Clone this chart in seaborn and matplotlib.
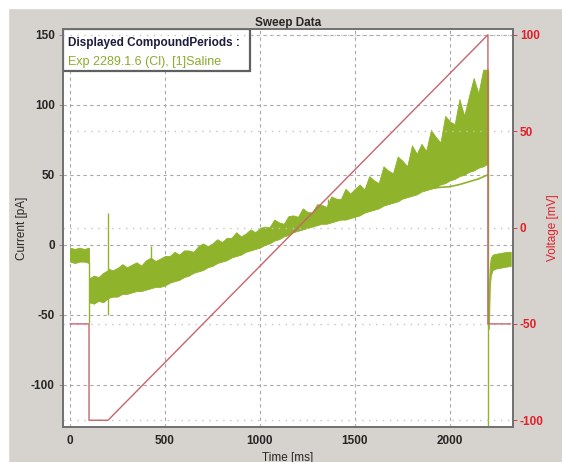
import numpy as np
import pandas as pd
import matplotlib
matplotlib.use("Agg")
import matplotlib.pyplot as plt
import seaborn as sns
from matplotlib.patches import Rectangle

# voltage protocol (ms, mV)
v_time = [0, 100, 100, 200, 2200, 2200, 2320]
v_mv = [-50, -50, -100, -100, 100, -50, -50]

# current band envelope during hold / step (ms, pA)
hold_t = [0, 25, 50, 75, 100]
hold_hi = [-2, -3, -2, -3, -2]
hold_lo = [-12, -13, -12, -12, -13]

step_t = [100, 125, 150, 175, 200]
step_hi = [-24, -22, -23, -20, -18]
step_lo = [-41, -42, -40, -41, -38]

# current band envelope during the ramp (every 25 ms from 200 to 2200)
ramp_t = list(range(200, 2201, 25))
ramp_hi = [-17, -18.2, -16.5, -13.8, -16, -14.2, -12.5, -14.8, -11, -9.2, -11.5,
           -9.8, -8,
           -8, -5, -7, -4, -4, -5, -1, 1, -1, 1, 4, 2, 5, 5, 9, 6, 8, 11, 9, 12,
           13, 12.5, 18, 16, 15, 20.5, 21, 20, 26, 23.5, 23, 29, 28.5, 27, 34.5,
           33, 32.5, 40, 36.5, 40,
           43, 39.5, 49, 46, 44, 56, 53, 51, 63, 60, 56, 71, 65, 72, 67, 82, 77,
           73, 92, 88, 86, 104, 92, 106, 119, 108, 125, 125]
ramp_lo = [-38, -37, -37, -35, -35, -34, -33, -33, -32, -31, -30, -30, -29, -27,
           -26, -25, -23, -22, -20, -19, -18, -16, -15, -13, -12, -11, -9, -8, -7,
           -5, -4, -3, -2, 0, 1, 3, 4, 6, 7, 9, 10, 11, 12, 13, 14, 15, 15, 16, 17,
           18, 18, 19, 20, 21, 23, 24, 25, 26, 28, 29, 30, 31, 33, 34, 35, 36, 38,
           39, 40, 41, 43, 44, 46, 47, 49, 50, 52, 53, 55, 56, 58]

# lowest single sweep separating at the end of the ramp
low_t = [1880, 1950, 2000, 2050, 2100, 2150, 2200]
low_pa = [40, 41, 41.5, 43, 45, 47, 50]

# recovery after return to -50 mV
rec_t = [2205, 2210, 2215, 2225, 2240, 2260, 2280, 2300, 2320]
rec_hi = [-30, -15, -9, -7, -6.5, -6, -5.5, -5, -5]
rec_lo = [-60, -30, -22, -18, -17, -16.5, -16, -15.5, -15]

# capacitive transients / spikes (ms, from pA, to pA)
spike_t = [100, 200, 426, 1358, 2203]
spike_lo = [-56, -50, -10, 26, -129]
spike_hi = [-12, 23, -1, 33, 124]

x_ticks = [0, 500, 1000, 1500, 2000]
i_ticks = [-100, -50, 0, 50, 100, 150]
v_ticks = [-100, -50, 0, 50, 100]

green = "#8fb32a"
vred = "#c8646c"
tred = "#e0202a"
bg = "#d6d3ce"

sns.set_style("white")
plt.rcParams["font.family"] = ["Liberation Sans", "DejaVu Sans"]
plt.rcParams["axes.unicode_minus"] = False

fig = plt.figure(figsize=(5.62, 4.62), dpi=100, facecolor=bg)
fig.patches.append(Rectangle((0, 1 - 8 / 462), 1, 8 / 462, transform=fig.transFigure,
                             color="white", zorder=0))
fig.patches.append(Rectangle((0, 0), 8 / 562, 1, transform=fig.transFigure,
                             color="white", zorder=0))
ax = fig.add_axes([63 / 562, 1 - 427 / 462, 450 / 562, 398 / 462])
ax.set_facecolor("white")

for t, hi, lo in [(hold_t, hold_hi, hold_lo), (step_t, step_hi, step_lo),
                  (ramp_t, ramp_hi, ramp_lo), (rec_t, rec_hi, rec_lo)]:
    ax.fill_between(t, lo, hi, color=green, lw=0.6, edgecolor=green, zorder=3)
ax.vlines(spike_t, spike_lo, spike_hi, color=green, lw=1.0, zorder=3)
sns.lineplot(x=low_t, y=low_pa, ax=ax, color=green, lw=1.2, zorder=3)

ax.set_xlim(-37, 2332)
ax.set_ylim(-130, 154)
ax.set_xticks(x_ticks)
ax.set_yticks(i_ticks)
ax.grid(True, color="#a8a8a8", linestyle=(0, (3, 3)), lw=0.8, zorder=0)
ax.set_axisbelow(True)
ax.tick_params(axis="both", length=3, width=0.6, color="#808080", labelsize=8.5, pad=3)
for lbl in ax.get_xticklabels() + ax.get_yticklabels():
    lbl.set_fontweight("bold")
ax.set_ylabel("Current [pA]", fontsize=8.5)
ax.yaxis.set_label_coords(-0.078, 0.5)
ax.set_xlabel("Time [ms]", fontsize=8.5, labelpad=3)
ax.set_title("Sweep Data", fontsize=8.5, fontweight="bold", pad=2)

ax2 = ax.twinx()
vdf = pd.DataFrame({"t": v_time, "v": v_mv})
sns.lineplot(data=vdf, x="t", y="v", ax=ax2, color=vred, lw=1.0, sort=False,
             estimator=None, zorder=4)
ax2.set_ylim(-103.5, 103)
ax2.set_yticks(v_ticks)
ax2.grid(True, axis="y", color="#c4c4c4", linestyle=(0, (1, 4)), lw=1.0)
ax2.tick_params(axis="y", length=3, width=0.6, color=tred, labelcolor=tred,
                labelsize=8.5, pad=2)
for lbl in ax2.get_yticklabels():
    lbl.set_fontweight("bold")
ax2.set_ylabel("Voltage [mV]", color=tred, fontsize=8.5)
ax2.yaxis.set_label_coords(1.075, 0.5)
ax2.set_xlabel("")

for a in (ax, ax2):
    for s in a.spines.values():
        s.set_color("#707070")
        s.set_linewidth(1.2)

ax.add_patch(Rectangle((0.0, 1 - 0.106), 0.416, 0.106, transform=ax.transAxes,
                       facecolor="white", edgecolor="#606060", lw=1.6, zorder=6))
ax.text(0.012, 0.965, "Displayed CompoundPeriods :", transform=ax.transAxes,
        fontsize=8.5, fontweight="bold", color="#1c1c3c", va="center", zorder=7)
ax.text(0.012, 0.918, "Exp 2289.1.6 (Cl), [1]Saline", transform=ax.transAxes,
        fontsize=9, color="#8aab2c", va="center", zorder=7)

fig.savefig("out.png", dpi=100, facecolor=bg)
